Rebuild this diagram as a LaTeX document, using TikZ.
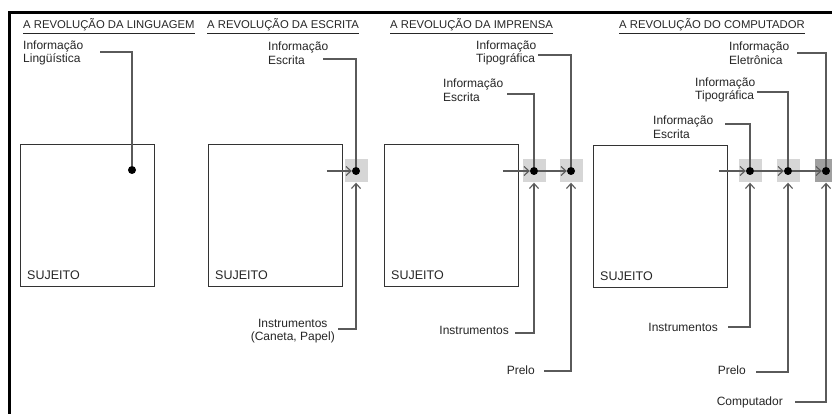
\documentclass[tikz,border=0pt]{standalone}
\usepackage{fontspec}
\setmainfont{Liberation Sans}
\usetikzlibrary{arrows.meta,calc}
\definecolor{txt}{HTML}{262626}
\definecolor{ln}{HTML}{5A5A5A}
\definecolor{sqL}{HTML}{D6D6D6}
\definecolor{sqD}{HTML}{A0A0A0}
\begin{document}
\begin{tikzpicture}[x=1pt,y=-1pt,
  font=\fontsize{12}{13.5}\selectfont,
  lab/.style={inner sep=0, text=txt, align=left},
  conn/.style={draw=ln, line width=1.1pt},
  arr/.style={conn, -{Straight Barb[length=5pt,width=9pt,line width=1.1pt]}},
  subj/.style={draw=black!80, line width=0.9pt, minimum width=134pt, minimum height=142pt, inner sep=0, anchor=north west},
  sqbox/.style={minimum size=23pt, inner sep=0, fill=sqL},
  dot/.style={circle, fill=black, minimum size=8pt, inner sep=0},
  title/.style={anchor=base west, inner sep=0, text=txt, font=\fontsize{11.3}{13}\selectfont},
  sj/.style={anchor=base west, inner sep=0, text=txt, font=\fontsize{12.5}{13}\selectfont}]
\useasboundingbox (0,0) rectangle (832,414);
\fill[white] (0,0) rectangle (832,414);
\draw[line width=3pt] (9,416) -- (9,13) -- (834,13);
% titles
\node[title] (t1) at (23,29) {\underline{A REVOLUÇÃO DA LINGUAGEM}};
\node[title] (t2) at (207,29) {\underline{A REVOLUÇÃO DA ESCRITA}};
\node[title] (t3) at (390,29) {\underline{A REVOLUÇÃO DA IMPRENSA}};
\node[title] (t4) at (619,29) {\underline{A REVOLUÇÃO DO COMPUTADOR}};
% subject boxes
\node[subj] (b1) at (20,144) {};
\node[subj] (b2) at (208,144) {};
\node[subj] (b3) at (384,144) {};
\node[subj] (b4) at (593,145) {};
\node[sj] (sj1) at ([shift={(7,-7)}]b1.south west) {SUJEITO};
\node[sj] (sj2) at ([shift={(7,-7)}]b2.south west) {SUJEITO};
\node[sj] (sj3) at ([shift={(7,-7)}]b3.south west) {SUJEITO};
\node[sj] (sj4) at ([shift={(7,-7)}]b4.south west) {SUJEITO};
% squares
\node[sqbox] (s2) at (356,171) {};
\node[sqbox] (s3a) at (534,171) {};
\node[sqbox] (s3b) at (571,171) {};
\node[sqbox] (s4a) at (750,171) {};
\node[sqbox] (s4b) at (788,171) {};
\node[sqbox, fill=sqD] (s4c) at (826,171) {};
% dots
\node[dot] (d1) at (132,170) {};
\node[dot] (d2) at (s2) {};
\node[dot] (d3a) at (s3a) {};
\node[dot] (d3b) at (s3b) {};
\node[dot] (d4a) at (s4a) {};
\node[dot] (d4b) at (s4b) {};
\node[dot] (d4c) at (s4c) {};
% top labels
\node[lab, anchor=west] (L1) at (23,53) {Informação\\Lingüística};
\node[lab, anchor=west] (L2) at (268,53) {Informação\\Escrita};
\node[lab, anchor=west] (L3a) at (476,53) {Informação\\Tipográfica};
\node[lab, anchor=west] (L3b) at (443,90) {Informação\\Escrita};
\node[lab, anchor=west] (L4a) at (729,53) {Informação\\Eletrônica};
\node[lab, anchor=west] (L4b) at (695,90) {Informação\\Tipográfica};
\node[lab, anchor=west] (L4c) at (653,127) {Informação\\Escrita};
\draw[conn] (L1.east) ++(17,-1) -| (d1);
\draw[conn] (L2.east) ++(-5,6) -| (d2);
\draw[conn] (L3a.east) ++(2,2) -| (d3b);
\draw[conn] (L3b.east) ++(4,4) -| (d3a);
\draw[conn] (L4a.east) ++(8,0) -| (d4c);
\draw[conn] (L4b.east) ++(2,2) -| (d4b);
\draw[conn] (L4c.east) ++(12,-3) -| (d4a);
% bottom labels
\node[lab, anchor=east, align=center] (B2) at (335,331) {Instrumentos\\(Caneta, Papel)};
\node[lab, anchor=east] (B3a) at (509,330) {Instrumentos};
\node[lab, anchor=east] (B3b) at (535,370) {Prelo};
\node[lab, anchor=east] (B4a) at (718,327) {Instrumentos};
\node[lab, anchor=east] (B4b) at (746,370) {Prelo};
\node[lab, anchor=east] (B4c) at (783,402) {Computador};
\draw[arr] (B2.east) ++(3,-2) -| (s2.south);
\draw[arr] (B3a.east) ++(6,3) -| (s3a.south);
\draw[arr] (B3b.east) ++(9,1) -| (s3b.south);
\draw[arr] (B4a.east) ++(10,0) -| (s4a.south);
\draw[arr] (B4b.east) ++(10,2) -| (s4b.south);
\draw[arr] (B4c.east) ++(12,0) -| (s4c.south);
% horizontal arrows
\draw[arr] (d2 -| b2.east) ++(-16,0) -- (d2);
\draw[arr] (d3a -| b3.east) ++(-16,0) -- (d3a);
\draw[arr] (d3a) -- (d3b);
\draw[arr] (d4a -| b4.east) ++(-9,0) -- (d4a);
\draw[arr] (d4a) -- (d4b);
\draw[arr] (d4b) -- (d4c);
\end{tikzpicture}
\end{document}
